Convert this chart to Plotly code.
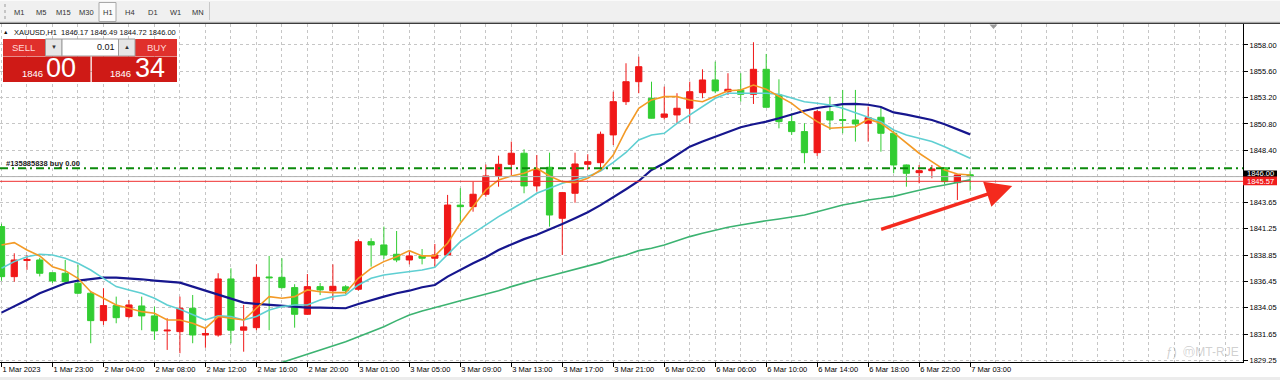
import plotly.graph_objects as go

# ---------------- data ----------------
bars = list(range(77))

open_ = [1841.44, 1836.88, 1838.35, 1838.40, 1837.24, 1837.19, 1836.28, 1835.37, 1832.87, 1834.24,
         1833.24, 1834.21, 1833.30, 1831.93, 1831.87, 1834.00, 1831.56, 1831.56, 1836.67, 1832.00,
         1832.23, 1836.85, 1836.82, 1835.88, 1833.45, 1835.97, 1835.60, 1835.95, 1835.73, 1840.07,
         1839.77, 1838.92, 1838.40, 1838.77, 1838.56, 1838.86, 1843.40, 1843.26, 1844.39, 1846.09,
         1847.12, 1848.13, 1845.15, 1846.85, 1842.20, 1844.48, 1847.12, 1847.27, 1849.80, 1852.83,
         1854.65, 1853.14, 1851.41, 1851.62, 1852.23, 1853.65, 1854.81, 1853.74, 1853.90, 1853.50,
         1855.78, 1853.44, 1851.01, 1850.10, 1848.18, 1851.92, 1851.20, 1851.16, 1850.86, 1851.41,
         1849.95, 1847.06, 1846.36, 1846.54, 1846.81, 1845.45, 1846.17]
high_ = [1841.70, 1839.01, 1838.85, 1838.60, 1837.24, 1838.40, 1837.95, 1835.50, 1835.82, 1835.06,
         1834.76, 1835.06, 1834.15, 1833.09, 1835.06, 1835.21, 1832.20, 1837.19, 1837.64, 1834.30,
         1838.00, 1838.77, 1838.56, 1836.19, 1837.12, 1836.30, 1838.00, 1836.10, 1840.29, 1840.38,
         1841.44, 1841.04, 1839.20, 1839.40, 1839.86, 1844.33, 1844.94, 1845.54, 1847.10, 1847.91,
         1849.19, 1848.49, 1847.97, 1848.18, 1844.60, 1848.18, 1848.04, 1850.10, 1853.74, 1856.33,
         1856.93, 1854.65, 1854.20, 1853.60, 1854.65, 1855.78, 1856.48, 1855.42, 1855.42, 1858.25,
         1857.18, 1854.87, 1851.77, 1850.86, 1852.07, 1853.29, 1853.90, 1853.90, 1852.38, 1852.38,
         1850.20, 1847.10, 1847.06, 1847.06, 1846.85, 1846.20, 1846.49]
low_ = [1836.50, 1836.42, 1837.50, 1836.90, 1836.30, 1836.30, 1835.30, 1830.81, 1832.48, 1832.63,
        1833.09, 1832.00, 1831.11, 1830.20, 1829.90, 1830.81, 1830.40, 1831.41, 1830.80, 1830.04,
        1832.00, 1832.00, 1835.80, 1832.23, 1833.40, 1835.20, 1834.75, 1835.30, 1835.60, 1837.79,
        1838.50, 1838.20, 1838.00, 1838.00, 1837.80, 1838.80, 1841.89, 1842.80, 1844.17, 1845.08,
        1846.15, 1844.48, 1844.63, 1841.44, 1838.86, 1843.62, 1846.60, 1846.60, 1848.88, 1852.53,
        1853.60, 1851.30, 1851.20, 1850.86, 1850.86, 1853.14, 1853.60, 1853.44, 1852.83, 1852.62,
        1852.30, 1850.40, 1849.80, 1847.22, 1847.88, 1850.25, 1849.95, 1849.19, 1849.19, 1848.27,
        1846.30, 1845.08, 1845.39, 1845.85, 1845.30, 1843.87, 1844.72]
close_ = [1836.88, 1838.40, 1838.45, 1837.19, 1836.49, 1836.42, 1835.37, 1832.87, 1834.24, 1833.14,
          1834.30, 1833.30, 1831.93, 1832.00, 1834.00, 1831.56, 1831.70, 1836.67, 1832.00, 1832.30,
          1836.82, 1836.78, 1835.88, 1833.45, 1835.97, 1835.67, 1836.00, 1835.60, 1840.07, 1839.77,
          1838.86, 1838.40, 1838.77, 1838.56, 1838.86, 1843.41, 1843.26, 1844.39, 1846.06, 1847.12,
          1848.13, 1845.15, 1846.67, 1842.50, 1844.54, 1847.15, 1847.36, 1849.86, 1852.83, 1854.65,
          1856.02, 1851.32, 1851.71, 1852.23, 1853.74, 1854.81, 1853.81, 1853.96, 1853.50, 1855.78,
          1852.32, 1851.01, 1850.10, 1848.18, 1851.92, 1851.16, 1851.12, 1850.80, 1851.37, 1849.95,
          1847.06, 1846.30, 1846.54, 1846.70, 1845.54, 1846.15, 1846.00]

ma_orange = [1839.77, 1839.98, 1839.31, 1838.77, 1837.79, 1837.43, 1836.73, 1835.51, 1834.91, 1834.30,
             1834.00, 1833.69, 1833.54, 1832.93, 1832.93, 1832.63, 1832.17, 1833.24, 1833.09, 1832.93,
             1834.00, 1835.06, 1834.91, 1835.06, 1835.67, 1835.51, 1835.42, 1835.42, 1836.73, 1837.64,
             1838.25, 1838.70, 1839.25, 1838.77, 1838.77, 1839.92, 1841.74, 1843.26, 1844.78, 1845.69,
             1846.06, 1846.30, 1846.76, 1846.06, 1845.54, 1845.45, 1845.85, 1846.60, 1847.97, 1850.25,
             1852.23, 1852.99, 1853.29, 1853.29, 1852.99, 1852.83, 1853.35, 1853.83, 1853.90, 1854.35,
             1853.96, 1853.29, 1852.68, 1851.77, 1851.01, 1850.41, 1850.46, 1850.55, 1851.23, 1850.86,
             1850.00, 1849.04, 1848.13, 1847.36, 1846.60, 1846.24, 1846.15]
ma_cyan = [1837.64, 1838.25, 1838.70, 1838.92, 1838.86, 1838.56, 1838.10, 1837.49, 1836.73, 1835.97,
           1835.67, 1835.37, 1834.91, 1834.30, 1833.91, 1833.39, 1832.93, 1833.30, 1833.24, 1832.93,
           1833.24, 1833.84, 1834.15, 1834.30, 1834.30, 1834.76, 1835.06, 1835.21, 1836.12, 1836.73,
           1837.03, 1837.19, 1837.33, 1837.49, 1837.73, 1838.90, 1840.07, 1840.83, 1841.59, 1842.35,
           1843.02, 1843.71, 1844.48, 1844.94, 1845.39, 1845.69, 1846.00, 1846.50, 1847.30, 1848.20,
           1849.34, 1849.80, 1849.95, 1850.86, 1851.62, 1852.44, 1853.14, 1853.60, 1853.60, 1853.60,
           1853.60, 1853.50, 1853.14, 1852.83, 1852.68, 1852.53, 1852.23, 1851.83, 1851.46, 1851.01,
           1850.25, 1849.80, 1849.49, 1849.19, 1848.73, 1848.18, 1847.67]
ma_navy = [1833.60, 1834.15, 1834.76, 1835.37, 1835.82, 1836.28, 1836.52, 1836.67, 1836.79, 1836.79,
           1836.73, 1836.64, 1836.52, 1836.42, 1836.33, 1835.97, 1835.60, 1835.30, 1834.91, 1834.51,
           1834.39, 1834.30, 1834.21, 1834.09, 1834.06, 1834.06, 1834.00, 1834.00, 1834.39, 1834.76,
           1835.06, 1835.37, 1835.60, 1835.91, 1836.12, 1836.88, 1837.50, 1838.10, 1838.65, 1839.31,
           1839.82, 1840.30, 1840.70, 1841.17, 1841.67, 1842.20, 1842.75, 1843.40, 1844.10, 1844.85,
           1845.60, 1846.60, 1847.22, 1847.97, 1848.73, 1849.19, 1849.64, 1850.10, 1850.50, 1850.77,
           1851.01, 1851.32, 1851.65, 1852.00, 1852.25, 1852.42, 1852.60, 1852.62, 1852.55, 1852.35,
           1851.85, 1851.65, 1851.43, 1851.16, 1850.78, 1850.30, 1849.85]
ma_green = [None] * 20 + [
           1828.30, 1828.68, 1829.06, 1829.44, 1829.83, 1830.20, 1830.56, 1830.95, 1831.41, 1831.87,
           1832.32, 1832.87, 1833.39, 1833.75, 1834.09, 1834.36, 1834.69, 1834.97, 1835.27, 1835.60,
           1835.97, 1836.33, 1836.64, 1836.94, 1837.24, 1837.55, 1837.79, 1838.16, 1838.56, 1838.86,
           1839.25, 1839.47, 1839.77, 1840.16, 1840.53, 1840.83, 1841.14, 1841.38, 1841.59, 1841.80,
           1841.98, 1842.14, 1842.35, 1842.50, 1842.80, 1843.11, 1843.41, 1843.62, 1843.87, 1844.02,
           1844.20, 1844.48, 1844.78, 1845.03, 1845.24, 1845.45, 1845.70]

x_tick_bars = list(range(0, 77, 4))
x_tick_labels = ["1 Mar 2023", "1 Mar 23:00", "2 Mar 04:00", "2 Mar 08:00", "2 Mar 12:00",
                 "2 Mar 16:00", "2 Mar 20:00", "3 Mar 01:00", "3 Mar 05:00", "3 Mar 09:00",
                 "3 Mar 13:00", "3 Mar 17:00", "3 Mar 21:00", "6 Mar 02:00", "6 Mar 06:00",
                 "6 Mar 10:00", "6 Mar 14:00", "6 Mar 18:00", "6 Mar 22:00", "7 Mar 03:00"]
y_tick_vals = [1829.25, 1831.65, 1834.05, 1836.45, 1838.85, 1841.25, 1843.65, 1846.05,
               1848.40, 1850.80, 1853.20, 1855.60, 1858.00]
y_tick_labels = ["1829.25", "1831.65", "1834.05", "1836.45", "1838.85", "1841.25", "1843.65", "",
                 "1848.40", "1850.80", "1853.20", "1855.60", "1858.00"]

order_price = 1846.76
bid_price = 1846.00
ask_price = 1845.57
timeframes = ["M1", "M5", "M15", "M30", "H1", "H4", "D1", "W1", "MN"]
header = "XAUUSD,H1  1846.17 1846.49 1844.72 1846.00"
arrow_from = (68.9, 1841.15)
arrow_to = (79.3, 1845.15)

# ---------------- layout geometry ----------------
W, H = 1280, 380
PL, PR, PT, PB = 0, 1243, 24, 362
FONT = "Liberation Sans"
RED = "#f01818"
GREEN = "#32cd32"
GRID = "#c6c6c6"


def PX(x):
    return (x - PL) / (PR - PL)


def PY(y):
    return (PB - y) / (PB - PT)


fig = go.Figure()
fig.add_trace(go.Candlestick(
    x=bars, open=open_, high=high_, low=low_, close=close_,
    increasing=dict(line=dict(color=RED, width=1), fillcolor=RED),
    decreasing=dict(line=dict(color=GREEN, width=1), fillcolor=GREEN),
    whiskerwidth=0, hoverinfo="skip", showlegend=False))

for vals, col, w in [(ma_green, "#3cb371", 1.6), (ma_navy, "#16168e", 2.2),
                     (ma_cyan, "#5fcfd2", 1.6), (ma_orange, "#f39a26", 1.6)]:
    fig.add_trace(go.Scatter(x=bars, y=vals, mode="lines", line=dict(color=col, width=w),
                             hoverinfo="skip", showlegend=False, connectgaps=False))

shapes = []
annots = []


def rect(x0, y0, x1, y1, fill, line=None, lw=0):
    shapes.append(dict(type="rect", xref="paper", yref="paper", x0=PX(x0), x1=PX(x1),
                       y0=PY(y1), y1=PY(y0), fillcolor=fill,
                       line=dict(color=line or fill, width=lw), layer="above"))


def hline(x0, x1, y, color, width=1, dash="solid"):
    shapes.append(dict(type="line", xref="paper", yref="paper", x0=PX(x0), x1=PX(x1),
                       y0=PY(y), y1=PY(y), line=dict(color=color, width=width, dash=dash),
                       layer="above"))


def text(x, y, s, size=7.5, color="#000", xanchor="center", bold=False, family=FONT):
    annots.append(dict(xref="paper", yref="paper", x=PX(x), y=PY(y), text=("<b>%s</b>" % s) if bold else s,
                       showarrow=False, xanchor=xanchor, yanchor="middle",
                       font=dict(size=size, color=color, family=family), borderpad=0))


# order / price lines in price coordinates
for price, col, w, dash in [(order_price, "#0b8a0b", 1.8, "8px,4px,2px,4px"),
                            (bid_price, "#b0b0b0", 1, "solid"),
                            (ask_price, "#f03030", 1, "solid")]:
    shapes.append(dict(type="line", xref="paper", yref="y", x0=0, x1=1, y0=price, y1=price,
                       line=dict(color=col, width=w, dash=dash), layer="above"))
text(5, 163.5, "#135885838 buy 0.00", size=7.5, color="#1a1a1a", xanchor="left", bold=True)

# price labels on the axis
shapes.append(dict(type="rect", xref="paper", yref="y", x0=PX(1243), x1=PX(1277),
                   y0=bid_price - 0.12, y1=bid_price + 0.55, fillcolor="#000",
                   line=dict(width=0), layer="above"))
annots.append(dict(xref="paper", yref="y", x=PX(1260), y=bid_price + 0.3, text="1846.00",
                   xanchor="center", yanchor="middle", borderpad=0,
                   showarrow=False, font=dict(size=7.5, color="#fff", family=FONT)))
shapes.append(dict(type="rect", xref="paper", yref="y", x0=PX(1243), x1=PX(1277),
                   y0=ask_price - 0.36, y1=ask_price + 0.44, fillcolor="#f01c1c",
                   line=dict(width=0), layer="above"))
annots.append(dict(xref="paper", yref="y", x=PX(1260), y=ask_price + 0.02, text="1845.57",
                   xanchor="center", yanchor="middle", borderpad=0,
                   showarrow=False, font=dict(size=7.5, color="#fff", family=FONT)))

# toolbar
rect(0, 0, 1280, 21.5, "#f0f0f0")
hline(0, 1280, 0.5, "#fafafa")
hline(0, 1280, 22.2, "#b4b4b4", 1)
hline(0, 1280, 23.3, "#3c3c3c", 1.2)
shapes.append(dict(type="line", xref="paper", yref="paper", x0=PX(5), x1=PX(5), y0=PY(4), y1=PY(19),
                   line=dict(color="#9a9a9a", width=1, dash="dot"), layer="above"))
shapes.append(dict(type="line", xref="paper", yref="paper", x0=PX(209.5), x1=PX(209.5), y0=PY(2), y1=PY(20),
                   line=dict(color="#c8c8c8", width=1), layer="above"))
rect(99, 2.5, 116, 21.5, "#fbfbfb", "#a8a8a8", 1)
tab_x = [18.7, 41, 63.5, 86, 107.5, 129.5, 152.5, 175, 197.5]
for tx, tf in zip(tab_x, timeframes):
    text(tx, 12.5, tf, size=7.5, color="#333")

# chart shift marker
shapes.append(dict(type="path", xref="paper", yref="paper",
                   path="M %f %f L %f %f L %f %f Z" % (PX(989.5), PY(24.5), PX(997.5), PY(24.5), PX(993.5), PY(29)),
                   fillcolor="#9a9a9a", line=dict(width=0), layer="above"))

# header
text(5, 32, "▲", size=5.5, color="#111")
text(12.5, 32, header, size=7.5, color="#111", xanchor="left")

# trade panel
rect(3, 39, 45.5, 56, "#e0302c")
rect(135, 39, 177, 56, "#e0302c")
rect(45.5, 39, 62, 56, "#e6e6e6", "#9c9c9c", 1)
rect(62, 39, 118.5, 56, "#ffffff", "#9c9c9c", 1)
rect(118.5, 39, 135, 56, "#e6e6e6", "#9c9c9c", 1)
rect(3, 56.5, 90.5, 82, "#cf1a16")
rect(91.8, 56.5, 177, 82, "#cf1a16")
text(23, 47.5, "SELL", size=9.5, color="#ffd9d9")
text(156.5, 47.5, "BUY", size=9.5, color="#ffd9d9")
text(53.7, 47.5, "▼", size=6, color="#333")
text(126.7, 47.5, "▲", size=6, color="#333")
text(115.5, 47.5, "0.01", size=9, color="#111", xanchor="right")
text(32.5, 73.5, "1846", size=9.5, color="#fff")
text(60.5, 68.5, "00", size=27, color="#fff")
text(120.5, 73.5, "1846", size=9.5, color="#fff")
text(149.5, 68.5, "34", size=27, color="#fff")

# watermark
text(1240, 351.5, "ƒ)  ⓜMT-RJE", size=12, color="rgba(150,150,150,0.45)", xanchor="right")

# bottom strip
rect(0, 377, 1280, 380, "#ececec")

# red arrow
annots.append(dict(xref="x", yref="y", axref="x", ayref="y", x=arrow_to[0], y=arrow_to[1],
                   ax=arrow_from[0], ay=arrow_from[1], text="", showarrow=True,
                   arrowhead=2, arrowsize=1.5, arrowwidth=3.5, arrowcolor="#f42a1e"))

fig.update_layout(
    width=W, height=H, margin=dict(l=PL, r=W - PR, t=PT, b=H - PB, pad=0),
    paper_bgcolor="#ffffff", plot_bgcolor="#ffffff", showlegend=False,
    shapes=shapes, annotations=annots, boxgap=0.3,
    font=dict(family=FONT, size=7.5, color="#000"),
    xaxis=dict(range=[-0.118, 97.41], rangeslider=dict(visible=False), tickmode="array",
               tickvals=x_tick_bars, ticktext=x_tick_labels, ticks="outside", ticklen=4,
               tickcolor="#000", showline=True, linecolor="#000", linewidth=1,
               showgrid=True, gridcolor=GRID, griddash="3px,3px", gridwidth=1, zeroline=False,
               ticklabelposition="outside right", tickfont=dict(size=7.5, color="#000"),
               minor=dict(dtick=2, tick0=0, showgrid=True, gridcolor=GRID, griddash="3px,3px",
                          gridwidth=1, ticks="")),
    yaxis=dict(range=[1829.10, 1859.91], side="right", tickmode="array", tickvals=y_tick_vals,
               ticktext=y_tick_labels, ticks="outside", ticklen=4, tickcolor="#000",
               showline=True, linecolor="#000", linewidth=1, showgrid=True, gridcolor=GRID,
               griddash="3px,3px", gridwidth=1, zeroline=False,
               tickfont=dict(size=7.5, color="#000")),
)

fig.write_html("out.html", config={"displayModeBar": False},
               post_script="document.body.style.margin='0';document.body.style.overflow='hidden';")
